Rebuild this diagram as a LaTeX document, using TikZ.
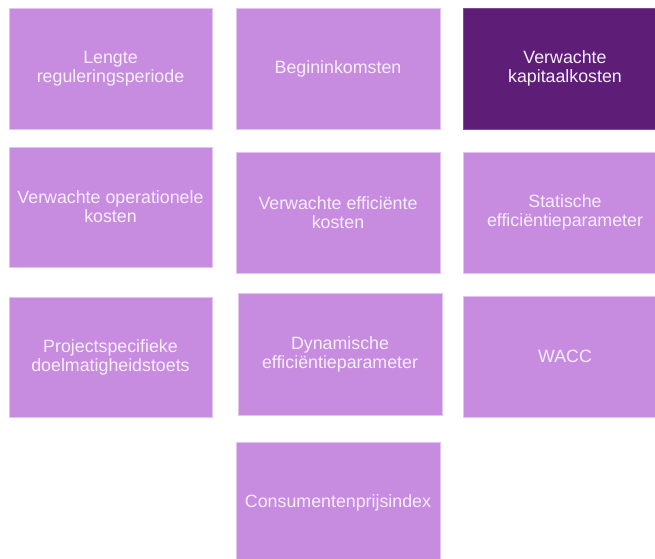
\documentclass[tikz,border=0pt]{standalone}
\usepackage{fontspec}
\setmainfont{Liberation Sans}
\definecolor{lightbox}{HTML}{C78CE0}
\definecolor{darkbox}{HTML}{5E1E78}
\definecolor{boxedge}{HTML}{E2C4F0}
\definecolor{boxtext}{HTML}{F6EEFA}
\begin{document}
\begin{tikzpicture}[x=1pt,y=-1pt,
  tile/.style={fill=lightbox,draw=boxedge,line width=0.6pt,text=boxtext,
    align=center,inner sep=0pt,
    font=\fontsize{17.8}{19}\selectfont},
  darktile/.style={tile,fill=darkbox,draw=darkbox!80!white}]
\useasboundingbox (0,0) rectangle (655,558);
\clip (0,0) rectangle (655,558);
\newcommand\tilebox[6]{%
  \node[#1,minimum width={#4-#2},minimum height={#5-#3}] (#6) at ({(#2+#4)/2},{(#3+#5)/2})}
\tilebox{tile}{9}{8}{212}{129}{lengte} {Lengte\\reguleringsperiode};
\tilebox{tile}{236}{8}{440}{129}{begin} {Begininkomsten};
\tilebox{darktile}{463}{8}{667}{129}{kapitaal} {Verwachte\\kapitaalkosten};
\tilebox{tile}{9}{147}{212}{267}{operationeel} {Verwachte operationele\\kosten};
\tilebox{tile}{236}{152}{440}{273}{efficient} {Verwachte efficiënte\\kosten};
\tilebox{tile}{463}{152}{667}{273}{statisch} {Statische\\efficiëntieparameter};
\tilebox{tile}{9}{297}{212}{417}{project} {Projectspecifieke\\doelmatigheidstoets};
\tilebox{tile}{238}{293}{442}{415}{dynamisch} {Dynamische\\efficiëntieparameter};
\tilebox{tile}{463}{296}{667}{417}{wacc} {WACC};
\tilebox{tile}{236}{442}{440}{563}{cpi} {Consumentenprijsindex};
\end{tikzpicture}
\end{document}
